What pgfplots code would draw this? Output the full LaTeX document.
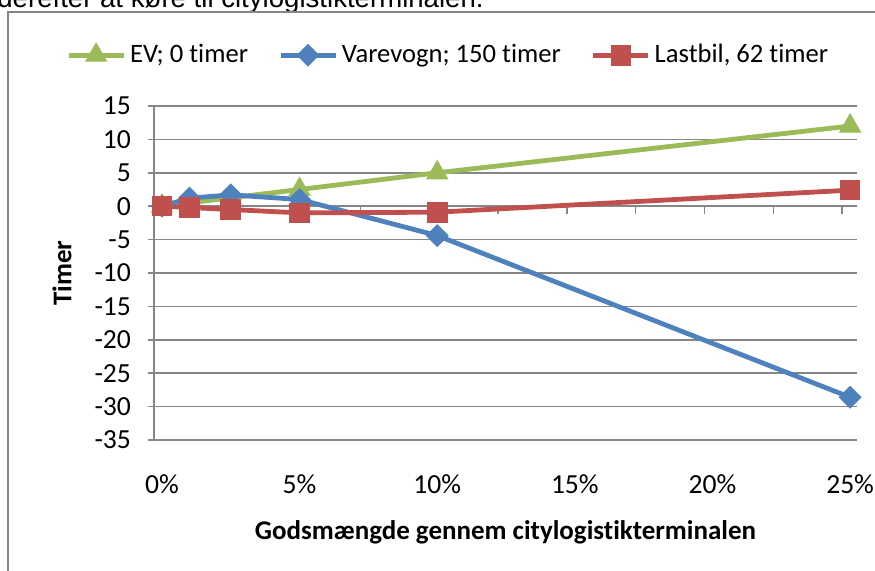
\documentclass[border=0pt]{standalone}
\usepackage{pgfplots}
\pgfplotsset{compat=1.18}
\usepackage{fontspec}
\setmainfont{Carlito}[Ligatures=NoCommon]
\newfontfamily\arialfont{Liberation Sans}
\definecolor{cgreen}{HTML}{9BBB59}
\definecolor{cblue}{HTML}{4F81BD}
\definecolor{cred}{HTML}{C0504D}
\definecolor{cgrid}{HTML}{868686}
\begin{document}
\begin{tikzpicture}
\useasboundingbox (0,0) rectangle (437.5pt,285.5pt);
\node[anchor=base west, inner sep=0, font=\arialfont\fontsize{13.8}{15}\selectfont] at (-1.5pt,281.5pt) {derefter at køre til citylogistikterminalen.};
\draw[cgrid, line width=1pt] (460pt,279.5pt) -- (4pt,279.5pt) -- (4pt,-20pt);
\begin{axis}[
  at={(77pt,65.5pt)}, anchor=south west, scale only axis,
  width=351.5pt, height=167pt,
  xmin=-0.29, xmax=25.25, ymin=-35, ymax=15,
  axis lines*=left,
  axis line style={cgrid, line width=0.8pt},
  ytick={-35,-30,...,15},
  ymajorgrids, grid style={cgrid, line width=0.8pt},
  xtick={0,5,10,15,20,25},
  xticklabels={0\%,5\%,10\%,15\%,20\%,25\%},
  x tick style={draw=none},
  y tick style={cgrid, line width=0.8pt},
  tick align=outside, major tick length=3pt,
  /pgf/number format/assume math mode=true,
  ticklabel style={font=\fontsize{13.8}{15}\selectfont},
  xticklabel style={yshift=-11pt},
  yticklabel style={xshift=-5pt},
  ylabel={\textbf{Timer}},
  ylabel style={at={(rel axis cs:-0.131,0.5)}, anchor=center, font=\fontsize{13.5}{15}\selectfont},
  xlabel={\textbf{Godsmængde gennem citylogistikterminalen}},
  xlabel style={at={(rel axis cs:0.5,0)}, anchor=center, yshift=-46pt, font=\fontsize{13.5}{15}\selectfont},
  legend columns=3,
  legend style={at={(0.42,1.152)}, anchor=center, draw=none, fill=none,
    font=\fontsize{13.3}{15}\selectfont,
    /tikz/every even column/.append style={column sep=13pt},
    inner sep=0pt},
  legend image code/.code={\draw[mark repeat=2,mark phase=2] plot coordinates {(0pt,0pt) (13.75pt,0pt) (27.5pt,0pt)};},
  clip=false,
]
\pgfplotsinvokeforeach{2.21,4.71,7.21,9.71,12.21,14.71,17.21,19.71,22.21,24.71}{
  \draw[cgrid, line width=0.8pt] (axis cs:#1,0) -- ([yshift=-4pt]axis cs:#1,0);
}
\addplot[cgreen, line width=2.4pt, mark=triangle*, mark size=6pt, mark options={solid, line width=0.5pt}]
  coordinates {(0,0) (1,0.5) (2.5,1.25) (5,2.5) (10,5) (25,12)};
\addlegendentry{EV; 0 timer}
\addplot[cblue, line width=2.4pt, mark=square*, mark size=3.8pt, mark options={solid, rotate=45, line width=0.5pt}]
  coordinates {(0,0) (1,1.2) (2.5,1.7) (5,1.0) (10,-4.4) (25,-28.6)};
\addlegendentry{Varevogn; 150 timer}
\addplot[cred, line width=2.4pt, mark=square*, mark size=4.9pt, mark options={solid, line width=0.5pt}]
  coordinates {(0,0) (1,-0.2) (2.5,-0.5) (5,-1.0) (10,-0.9) (25,2.4)};
\addlegendentry{Lastbil, 62 timer}
\end{axis}
\end{tikzpicture}
\end{document}
